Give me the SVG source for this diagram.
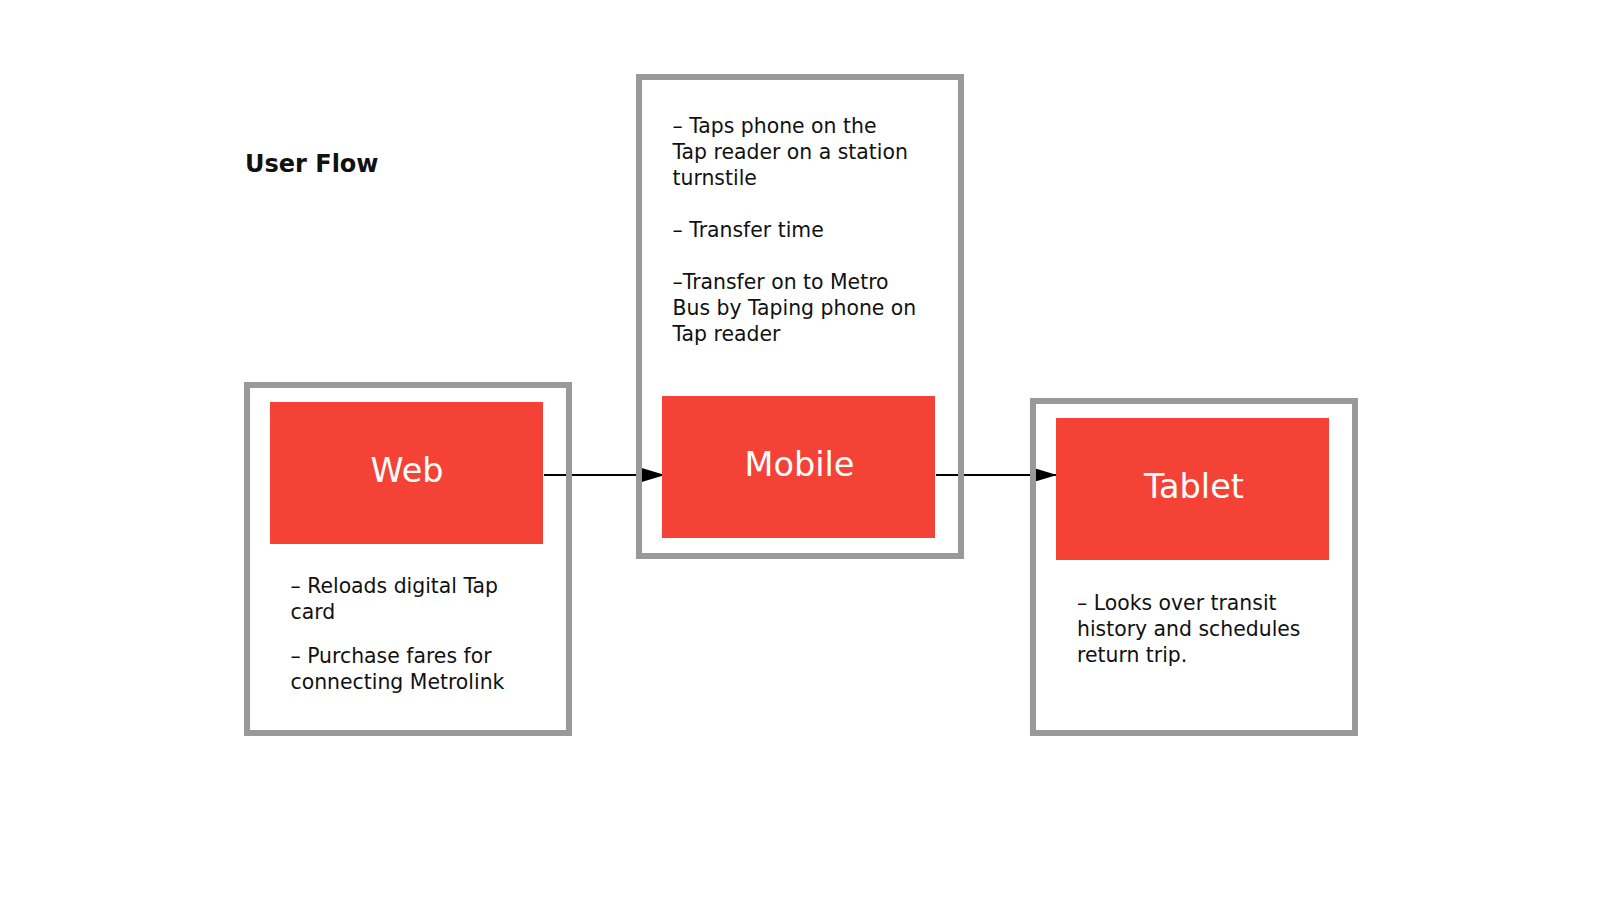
<svg xmlns="http://www.w3.org/2000/svg" width="1600" height="900" viewBox="0 0 1600 900">
  <defs>
    <marker id="arrow" markerWidth="26" markerHeight="16" refX="25" refY="8" orient="auto" markerUnits="userSpaceOnUse">
      <path d="M0,0.5 L25,8 L0,15.5 Z" fill="#000"/>
    </marker>
    <style>
      .frame { fill: none; stroke: #999999; stroke-width: 6; }
      .block { fill: #F44336; }
      .label { font-family: "DejaVu Sans", "Liberation Sans", sans-serif; font-size: 33.5px; fill: #ffffff; text-anchor: middle; }
      .body { font-family: "DejaVu Sans", "Liberation Sans", sans-serif; font-size: 20.4px; fill: #111111; }
      .title { font-family: "DejaVu Sans", "Liberation Sans", sans-serif; font-size: 24px; font-weight: bold; fill: #111111; }
      .conn { stroke: #000; stroke-width: 2; fill: none; }
    </style>
  </defs>
  <rect width="1600" height="900" fill="#ffffff"/>
  <text class="title" x="245" y="171.5">User Flow</text>

  <g id="connectors">
    <line class="conn" x1="544" y1="475" x2="665" y2="475" marker-end="url(#arrow)"/>
    <line class="conn" x1="936" y1="475" x2="1057" y2="475" marker-end="url(#arrow)"/>
  </g>

  <g id="web">
    <rect class="frame" x="247" y="385" width="322" height="348"/>
    <rect class="block" x="270" y="402" width="273" height="142"/>
    <text class="label" x="407" y="481.5">Web</text>
    <text class="body" x="290.5" y="592.5">– Reloads digital Tap</text>
    <text class="body" x="290.5" y="619">card</text>
    <text class="body" x="290.5" y="663">– Purchase fares for</text>
    <text class="body" x="290.5" y="689">connecting Metrolink</text>
  </g>

  <g id="mobile">
    <rect class="frame" x="639" y="77" width="322" height="479"/>
    <rect class="block" x="662" y="396" width="273" height="142"/>
    <text class="label" x="799.5" y="475.5">Mobile</text>
    <text class="body" x="672.5" y="133.3">– Taps phone on the</text>
    <text class="body" x="672.5" y="159.3">Tap reader on a station</text>
    <text class="body" x="672.5" y="185.3">turnstile</text>
    <text class="body" x="672.5" y="237.3">– Transfer time</text>
    <text class="body" x="672.5" y="289.3">–Transfer on to Metro</text>
    <text class="body" x="672.5" y="315.3">Bus by Taping phone on</text>
    <text class="body" x="672.5" y="341.3">Tap reader</text>
  </g>

  <g id="tablet">
    <rect class="frame" x="1033" y="401" width="322" height="332"/>
    <rect class="block" x="1056" y="418" width="273" height="142"/>
    <text class="label" x="1194" y="498.3">Tablet</text>
    <text class="body" x="1077" y="610">– Looks over transit</text>
    <text class="body" x="1077" y="636">history and schedules</text>
    <text class="body" x="1077" y="661.7">return trip.</text>
  </g>
</svg>
